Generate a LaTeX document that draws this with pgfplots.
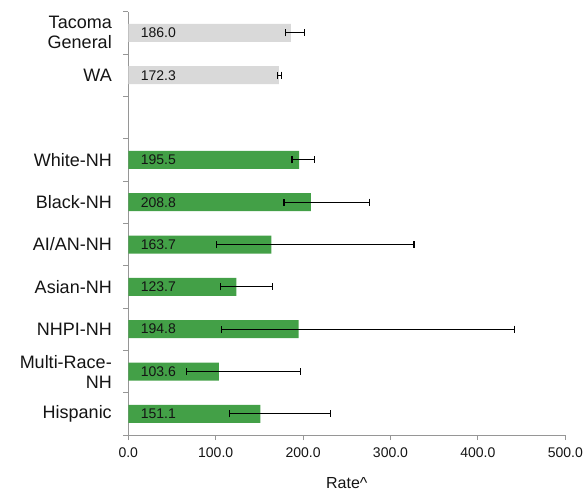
\documentclass[border=0pt]{standalone}
\usepackage{pgfplots}
\pgfplotsset{compat=1.18}
\usepackage{pgfplotstable}
\usepackage{fontspec}
\setmainfont{Liberation Sans}
\definecolor{bargreen}{RGB}{67,160,71}
\definecolor{bargray}{RGB}{217,217,217}
\definecolor{axgray}{RGB}{150,150,150}
\definecolor{txt}{RGB}{20,20,20}

\pgfplotstableread{
y z val em ep lab
9 0 186.0 6.5 15.5 186.0
8 0 172.3 1.8 2.7 172.3
}\refdata

\pgfplotstableread{
y z val em ep lab
6 0 195.5 8.3 17.3 195.5
5 0 208.8 30.6 66.8 208.8
4 0 163.7 62.4 163.2 163.7
3 0 123.7 18.1 41.7 123.7
2 0 194.8 88.0 247.5 194.8
1 0 103.6 37.4 93.4 103.6
0 0 151.1 34.9 80.5 151.1
}\racedata

\begin{document}
\begin{tikzpicture}
\begin{axis}[
  at={(0,0)}, anchor=south west,
  scale only axis, width=437pt, height=423.3pt,
  xmin=0, xmax=500, ymin=-0.5, ymax=9.5,
  axis x line*=bottom, axis y line*=left,
  axis line style={axgray, line width=0.8pt},
  tick style={axgray, line width=0.8pt},
  tick align=outside, major tick length=5pt,
  xtick={0,100,...,500},
  ytick={-0.5,0.5,...,9.5},
  y tick label as interval,
  yticklabels={Hispanic, {Multi-Race-\\NH}, NHPI-NH, Asian-NH, AI/AN-NH, Black-NH, White-NH, {}, WA, {Tacoma\\General}},
  yticklabel style={align=right, font=\fontsize{18}{20}\selectfont, text=txt, xshift=-8pt},
  xticklabel style={font=\fontsize{14}{16}\selectfont, text=txt, yshift=-4pt},
  /pgf/number format/.cd, fixed, fixed zerofill, precision=1, assume math mode=true,
  /pgfplots/.cd,
  xlabel={Rate\textasciicircum},
  xlabel style={font=\fontsize{16}{18}\selectfont, text=txt, yshift=-13pt},
  clip=false,
]
\addplot[xbar, bar shift=0pt, bar width=18pt, fill=bargray, draw=none,
  error bars/.cd, x dir=both, x explicit,
  error bar style={line width=1.2pt, draw=black},
  error mark options={rotate=90, line width=1.2pt, draw=black, mark size=3.5pt}]
  table[x=val, y=y, x error plus=ep, x error minus=em] {\refdata};
\addplot[xbar, bar shift=0pt, bar width=18pt, fill=bargreen, draw=none,
  error bars/.cd, x dir=both, x explicit,
  error bar style={line width=1.2pt, draw=black},
  error mark options={rotate=90, line width=1.2pt, draw=black, mark size=3.5pt}]
  table[x=val, y=y, x error plus=ep, x error minus=em] {\racedata};
\addplot[draw=none, mark=none, forget plot, nodes near coords, point meta=explicit symbolic,
  nodes near coords style={anchor=west, xshift=9pt, font=\fontsize{14}{16}\selectfont, text=txt}]
  table[x=z, y=y, meta=lab] {\refdata};
\addplot[draw=none, mark=none, forget plot, nodes near coords, point meta=explicit symbolic,
  nodes near coords style={anchor=west, xshift=9pt, font=\fontsize{14}{16}\selectfont, text=txt}]
  table[x=z, y=y, meta=lab] {\racedata};
\end{axis}
\pgfresetboundingbox
\path[use as bounding box] (-128.3pt,-58pt) rectangle (455.7pt,435pt);
\end{tikzpicture}
\end{document}
